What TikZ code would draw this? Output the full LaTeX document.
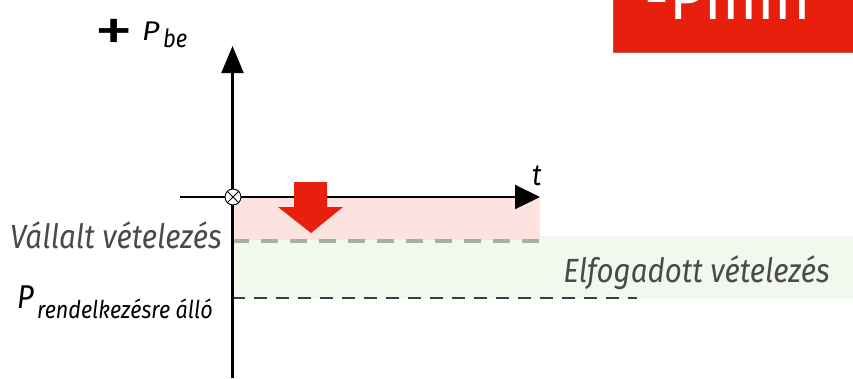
\documentclass[tikz,border=0pt]{standalone}
\usepackage{fontspec}
\setmainfont[FakeStretch=0.88]{Fira Sans}
\newfontfamily\plainfont{Fira Sans}
\usetikzlibrary{arrows.meta}
\definecolor{pinkfill}{HTML}{FDE3DF}
\definecolor{greenfill}{HTML}{F3F8EE}
\definecolor{dashgray}{HTML}{A8AEA3}
\definecolor{darkdash}{HTML}{3A3D38}
\definecolor{redbox}{HTML}{E81F0C}
\definecolor{redboxedge}{HTML}{B85A50}
\definecolor{labelgray}{HTML}{4A4A4A}
\tikzset{
  axisline/.style={line width=2.2pt, black},
  graylabel/.style={inner sep=0pt, text=labelgray, font=\fontsize{33.5}{34}\selectfont\itshape},
  blacklabel/.style={inner sep=0pt, text=black},
}
\begin{document}
\begin{tikzpicture}[x=1pt,y=-1pt]
\useasboundingbox (0,0) rectangle (853,378);
% bands
\fill[greenfill] (232,236) rectangle (853,299);
\fill[pinkfill] (232,197) rectangle (540,240);
\coordinate (gd1) at (232,240.5);
\coordinate (gd2) at (540,240.5);
\coordinate (dd1) at (232,297.5);
\coordinate (dd2) at (637,297.5);
\draw[dashgray, line width=4pt, dash pattern=on 17pt off 12pt] (gd1) -- (gd2);
\draw[darkdash, line width=2pt, dash pattern=on 13pt off 9pt] (dd1) -- (dd2);
% axes
\coordinate (ytop) at (232.5,46);
\coordinate (ybot) at (232.5,378);
\coordinate (xleft) at (180,197);
\coordinate (xright) at (540,197);
\draw[axisline, -{Triangle[length=27pt,width=22pt]}] (ybot) -- (ytop);
\draw[axisline, -{Triangle[length=25pt,width=24pt]}] (xleft) -- (xright);
% origin marker
\node[circle, draw=black, line width=0.9pt, fill=white, minimum size=16pt, inner sep=0pt] (O) at (233,197) {};
\draw[line width=0.9pt] (O.north east) -- (O.south west) (O.north west) -- (O.south east);
% red down arrow
\fill[redbox] (294,182) -- (327,182) -- (327,207) -- (343,207) -- (311,233) -- (278,207) -- (294,207) -- cycle;
% red box top right
\fill[redbox] (613,-2) rectangle (853,52);
\draw[redboxedge, line width=0.8pt] (613,0) -- (613,52) -- (853,52);
\node[anchor=base west, inner sep=0pt, text=white, font=\fontsize{62}{62}\selectfont\plainfont] (pmin) at (644,19) {-Pmin};
% labels
\node[graylabel, anchor=base east] (vallalt) at (222,248) {Vállalt vételezés};
\node[graylabel, anchor=base east] (elfog) at (830,282) {Elfogadott vételezés};
\node[blacklabel, anchor=base west, font=\fontsize{33}{34}\selectfont\itshape] (prend) at (17,308) {P};
\node[blacklabel, anchor=base west, font=\fontsize{24.5}{26}\selectfont\itshape] (prendsub) at (37,318) {rendelkezésre álló};
\node[inner sep=0pt, anchor=center, font=\fontsize{62}{62}\selectfont\plainfont] (plus) at (114,35) {\scalebox{1.27}[1]{+}};
\node[blacklabel, anchor=base west, font=\fontsize{27}{28}\selectfont\plainfont\itshape] (pbe) at (142,40) {\scalebox{1.12}[1]{P}};
\node[blacklabel, anchor=base west, font=\fontsize{25}{26}\selectfont\itshape] (pbesub) at (163,47) {be};
\node[blacklabel, anchor=base west, font=\fontsize{30}{30}\selectfont\itshape] (tlabel) at (532,185) {t};
\end{tikzpicture}
\end{document}
